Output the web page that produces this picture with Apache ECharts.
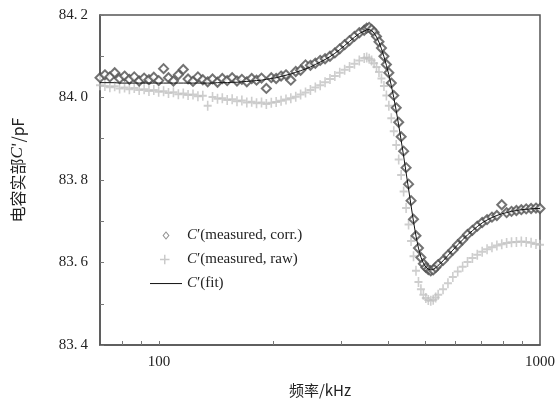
<!DOCTYPE html>
<html><head><meta charset="utf-8">
<script src="https://cdn.jsdelivr.net/npm/echarts@6/dist/echarts.min.js"></script>
<style>html,body{margin:0;padding:0;background:#fff}#c{width:559px;height:405px}</style>
</head><body><div id="c"></div>
<script>
// frequency (kHz)
const freq = [70,72.1,74.3,76.5,78.8,81.2,83.6,86.1,88.7,91.4,94.1,96.9,99.8,102.8,105.9,109.1,112.4,115.8,119.2,122.8,126.5,130.3,134.2,138.2,142.4,146.6,151.0,155.6,160.2,165.0,170.0,175.1,180.3,185.8,191.3,197.1,203.0,209.1,215.4,221.8,228.5,235.3,242.4,249.7,257.2,264.9,272.8,281.0,289.4,298.1,307.1,316.3,325.8,335.5,345.6,
350.8,356.1,361.4,366.8,372.3,377.9,383.6,389.4,395.2,401.1,407.1,413.2,419.4,425.7,432.1,438.6,445.2,451.9,458.7,465.6,472.6,479.7,486.9,494.2,501.6,509.1,516.7,524.5,532.4,540.4,
556.6,573.3,590.5,608.2,626.5,645.3,664.6,684.5,705.1,726.2,748.0,770.5,793.6,817.4,841.9,867.2,893.2,920.0,947.6,976.0,1000];
// C' measured, corrected (pF)
const corr = [84.048,84.055,84.050,84.060,84.046,84.052,84.044,84.050,84.040,84.047,84.043,84.049,84.041,84.070,84.048,84.040,84.055,84.068,84.045,84.039,84.050,84.043,84.038,84.045,84.037,84.046,84.041,84.048,84.040,84.044,84.038,84.046,84.042,84.047,84.022,84.048,84.046,84.052,84.055,84.042,84.063,84.066,84.079,84.078,84.083,84.090,84.094,84.100,84.108,84.118,84.128,84.138,84.148,84.157,84.163,
84.168,84.170,84.165,84.158,84.148,84.135,84.120,84.100,84.080,84.060,84.035,84.005,83.975,83.940,83.905,83.870,83.830,83.790,83.750,83.705,83.665,83.635,83.612,83.597,83.588,83.583,83.580,83.582,83.588,83.595,
83.605,83.618,83.630,83.643,83.655,83.668,83.678,83.688,83.697,83.704,83.710,83.714,83.740,83.721,83.724,83.726,83.728,83.730,83.731,83.732,83.731];
// C' measured, raw (pF)
const raw = [84.030,84.028,84.025,84.027,84.022,84.024,84.020,84.023,84.018,84.020,84.016,84.018,84.014,84.015,84.011,84.013,84.008,84.010,84.006,84.007,84.003,84.004,83.980,84.001,83.997,83.998,83.994,83.996,83.991,83.993,83.988,83.990,83.986,83.988,83.984,83.987,83.989,83.992,83.995,83.998,84.002,84.007,84.012,84.018,84.024,84.030,84.037,84.045,84.052,84.060,84.067,84.074,84.082,84.090,84.096,
84.097,84.094,84.090,84.083,84.074,84.062,84.046,84.028,84.005,83.980,83.950,83.918,83.885,83.850,83.812,83.772,83.732,83.692,83.652,83.615,83.580,83.553,83.535,83.522,83.514,83.509,83.507,83.510,83.515,83.522,
83.535,83.550,83.565,83.578,83.590,83.601,83.611,83.619,83.626,83.632,83.637,83.641,83.644,83.647,83.649,83.650,83.651,83.650,83.648,83.645,83.643];
// C' fit (pF)
const fit = [84.036,84.036,84.036,84.036,84.035,84.035,84.035,84.035,84.035,84.035,84.035,84.035,84.035,84.035,84.035,84.035,84.035,84.035,84.035,84.035,84.035,84.035,84.035,84.035,84.036,84.036,84.036,84.037,84.037,84.038,84.039,84.040,84.041,84.042,84.044,84.046,84.048,84.051,84.054,84.057,84.061,84.065,84.069,84.074,84.080,84.086,84.092,84.099,84.107,84.116,84.126,84.136,84.146,84.155,84.161,
84.164,84.165,84.162,84.156,84.147,84.134,84.118,84.099,84.078,84.055,84.029,84.000,83.968,83.933,83.896,83.858,83.818,83.778,83.738,83.699,83.664,83.635,83.613,83.598,83.589,83.584,83.582,83.583,83.587,83.593,
83.604,83.617,83.630,83.643,83.655,83.667,83.677,83.687,83.696,83.703,83.709,83.714,83.718,83.721,83.724,83.726,83.728,83.729,83.730,83.731,83.731];
const xTicks = [80,90,100,200,300,400,500,600,700,800,900];
const xLabels = [100,1000];
const yMin = 83.4, yMax = 84.2, yStep = 0.2;

const zip = (xs, ys) => xs.map((x, i) => [x, ys[i]]);
const serif = '"Liberation Serif","DejaVu Serif",serif';
const cjk = '"Noto Sans CJK SC","Liberation Serif",serif';
const plus = 'path://M4,0H6V4H10V6H6V10H4V6H0V4H4Z';
const plusIcon = 'path://M0,0L0,0M14,0H15.5V4H19.5V5.5H15.5V9.5H14V5.5H10V4H14ZM32,9.5L32,9.5';
const diamondIcon = 'path://M0,0L0,0M16,0.5L19.5,4.75L16,9L12.5,4.75ZM16,2L13.8,4.75L16,7.5L18.2,4.75ZM32,9.5L32,9.5';
const lineIcon = 'path://M0,0L0,0M0,4.3H32V5.3H0ZM32,9.5L32,9.5';

const chart = echarts.init(document.getElementById('c'), null, {renderer: 'canvas'});
chart.setOption({
  animation: false,
  grid: {left: 100, right: 19, top: 15, bottom: 60, show: true, borderColor: '#555', borderWidth: 1.5},
  xAxis: {
    type: 'log', logBase: 10, min: 70, max: 1000,
    name: '频率/kHz', nameLocation: 'middle', nameGap: 38,
    nameTextStyle: {fontFamily: cjk, fontSize: 15, color: '#222'},
    axisLine: {lineStyle: {color: '#555', width: 1.5}},
    axisTick: {inside: true, length: 4, customValues: xTicks, lineStyle: {color: '#777'}},
    axisLabel: {customValues: xLabels, fontFamily: serif, fontSize: 15, color: '#222', margin: 10,
      formatter: v => String(Math.round(v))},
    splitLine: {show: false}, minorTick: {show: false}
  },
  yAxis: {
    type: 'value', min: yMin, max: yMax, interval: yStep,
    name: '电容实部{i|C}′/pF', nameLocation: 'middle', nameGap: 74,
    nameTextStyle: {fontFamily: cjk, fontSize: 16, color: '#222', padding: [0, 0, 0, 20],
      rich: {i: {fontStyle: 'italic', fontFamily: serif, fontSize: 17, color: '#222'}}},
    axisLine: {show: true, lineStyle: {color: '#555', width: 1.5}},
    axisTick: {inside: true, length: 4, lineStyle: {color: '#777'}},
    minorTick: {show: true, splitNumber: 2, length: 4, lineStyle: {color: '#777'}},
    axisLabel: {fontFamily: serif, fontSize: 15, color: '#222', margin: 12,
      formatter: v => v.toFixed(1).replace('.', '.\u2009')},
    splitLine: {show: false}
  },
  legend: {
    orient: 'vertical', left: 145, top: 223, itemWidth: 32, itemHeight: 9.5, itemGap: 9,
    textStyle: {fontFamily: serif, fontSize: 15, color: '#222',
      rich: {i: {fontStyle: 'italic', fontFamily: serif, fontSize: 15, color: '#222'}}},
    formatter: n => ({corr: '{i|C}′(measured, corr.)', raw: '{i|C}′(measured, raw)', fit: '{i|C}′(fit)'})[n],
    data: [
      {name: 'corr', icon: diamondIcon, itemStyle: {color: '#777', borderWidth: 0}},
      {name: 'raw', icon: plusIcon, itemStyle: {color: '#bdbdbd', borderWidth: 0}},
      {name: 'fit', icon: lineIcon, itemStyle: {color: '#111', borderWidth: 0}}
    ]
  },
  series: [
    {name: 'raw', type: 'scatter', data: zip(freq, raw), symbol: plus, symbolSize: [8, 10],
      itemStyle: {color: '#c2c2c2'}, z: 1},
    {name: 'corr', type: 'scatter', data: zip(freq, corr), symbol: 'emptyDiamond', symbolSize: 9,
      itemStyle: {color: '#505050', borderWidth: 1}, z: 2},
    {name: 'fit', type: 'line', data: zip(freq, fit), symbol: 'none', smooth: false,
      lineStyle: {color: '#111', width: 1}, itemStyle: {color: '#111'}, z: 3}
  ]
});
</script></body></html>
